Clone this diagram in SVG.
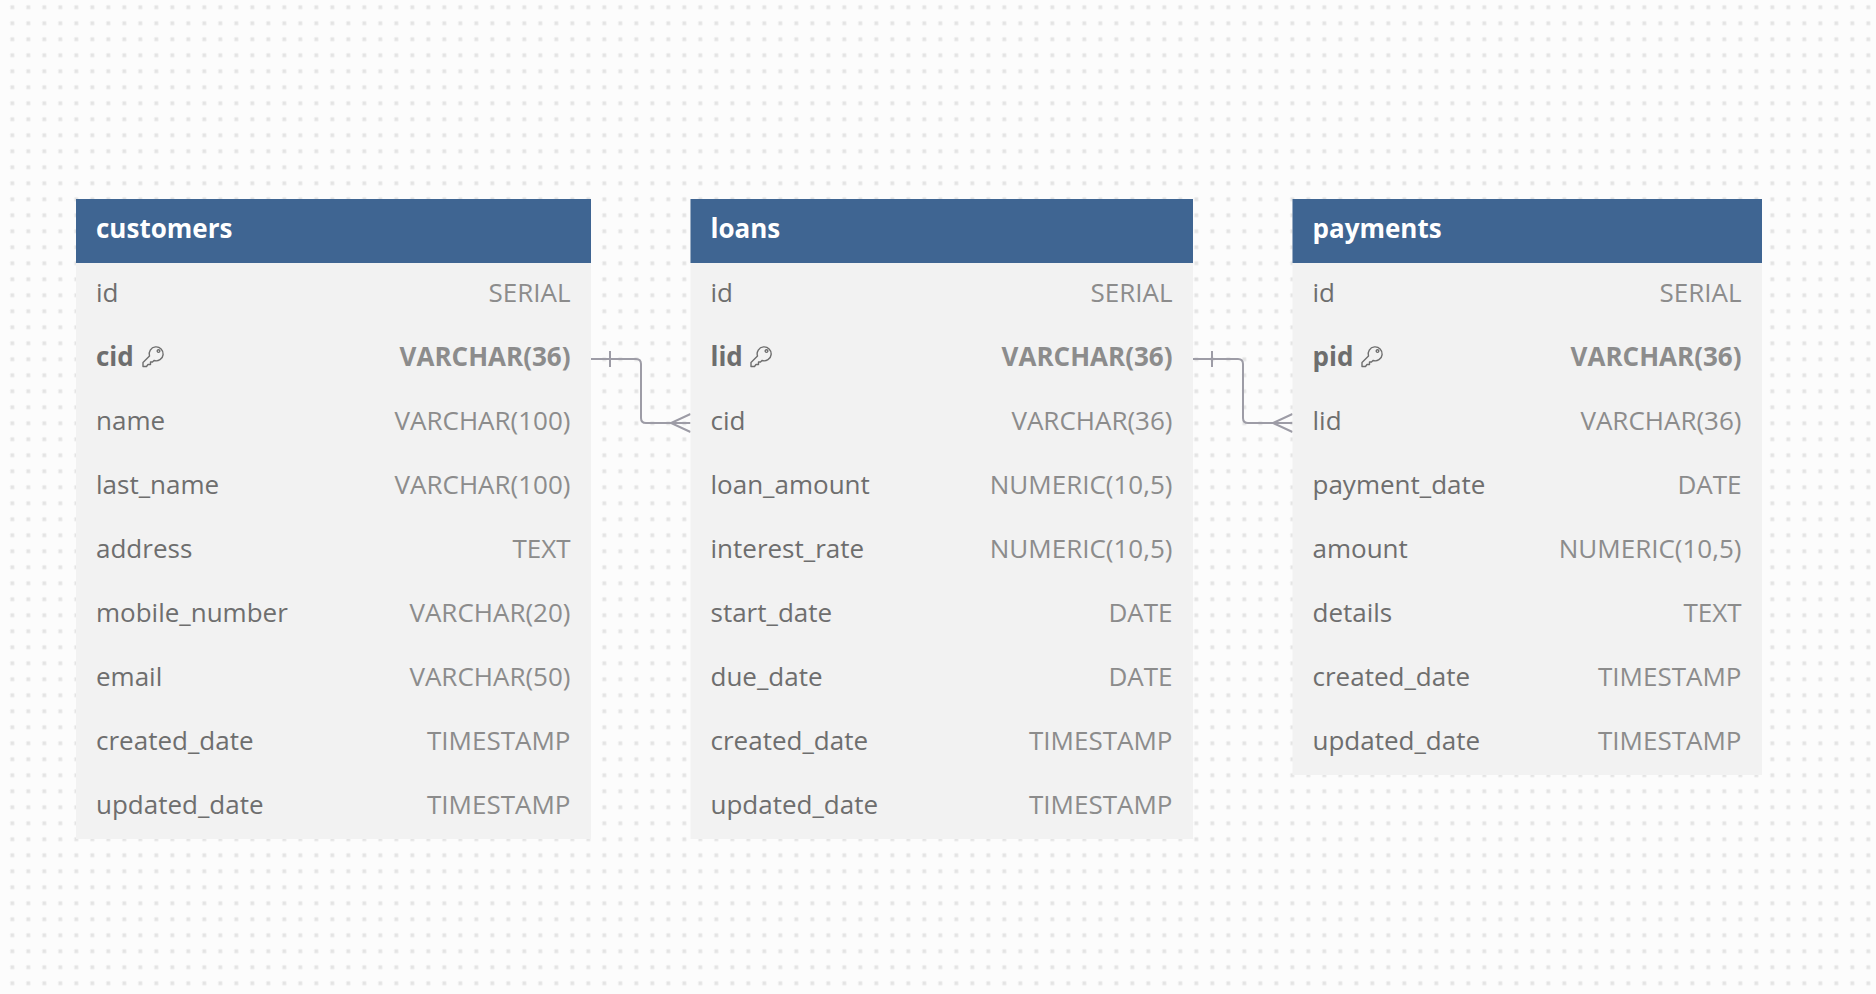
<svg xmlns="http://www.w3.org/2000/svg" width="1876" height="994" viewBox="0 0 1876 994">
<style>
text{font-family:"Open Sans","Noto Sans",sans-serif;font-size:26px;fill:#6e6e6e}
.h{fill:#3f6592}.b{fill:#f2f2f2}
.t{font-weight:700;fill:#fff}
.ty{text-anchor:end;fill:#8c8c8c}
.k{font-weight:700}.ty.k{fill:#8c8c8c}
.c{fill:none;stroke:#9d9ca6;stroke-width:2}
</style>
<defs>
<pattern id="dots" width="16" height="16" patternUnits="userSpaceOnUse"><rect x="9.800" y="4.700" width="5" height="5" rx="1.500" fill="#f3f3f3"/><rect x="10.800" y="5.700" width="3" height="3" fill="#e4e4e4"/></pattern>
<g id="key"><path d="M1 20.500V16.500L7.500 10A7 7 0 1 1 12 14.500L10.500 16H8.500V18.500H6L4.500 20.500Z M16.500 3.800A1.300 1.300 0 1 0 16.510 3.800Z" fill="none" stroke="#6e6e6e" stroke-width="1.400" stroke-linejoin="round"/></g>
</defs>
<rect width="1876" height="994" fill="#fcfcfc"/>
<rect width="1876" height="994" fill="url(#dots)"/>
<g id="connectors">
<path class="c" d="M591 359H636Q641 359 641 364V418Q641 423 646 423H690.500M610 351V367M690.500 414L671 423L690.500 432"/>
<path class="c" d="M1193 359H1238Q1243 359 1243 364V418Q1243 423 1248 423H1292.500M1212 351V367M1292.500 414L1273 423L1292.500 432"/>
</g>
<g id="customers">
<rect class="b" x="76" y="199" width="515" height="640"/><rect class="h" x="76" y="199" width="515" height="64"/>
<text class="t" x="96" y="238">customers</text>
<text x="96" y="302">id</text><text class="ty" x="570.500" y="302">SERIAL</text>
<text class="k" x="96" y="366">cid</text><use href="#key" x="142" y="346"/><text class="ty k" x="570.500" y="366">VARCHAR(36)</text>
<text x="96" y="430">name</text><text class="ty" x="570.500" y="430">VARCHAR(100)</text>
<text x="96" y="494">last_name</text><text class="ty" x="570.500" y="494">VARCHAR(100)</text>
<text x="96" y="558">address</text><text class="ty" x="570.500" y="558">TEXT</text>
<text x="96" y="622">mobile_number</text><text class="ty" x="570.500" y="622">VARCHAR(20)</text>
<text x="96" y="686">email</text><text class="ty" x="570.500" y="686">VARCHAR(50)</text>
<text x="96" y="750">created_date</text><text class="ty" x="570.500" y="750">TIMESTAMP</text>
<text x="96" y="814">updated_date</text><text class="ty" x="570.500" y="814">TIMESTAMP</text>
</g>
<g id="loans">
<rect class="b" x="690.500" y="199" width="502.500" height="640"/><rect class="h" x="690.500" y="199" width="502.500" height="64"/>
<text class="t" x="710.500" y="238">loans</text>
<text x="710.500" y="302">id</text><text class="ty" x="1172.500" y="302">SERIAL</text>
<text class="k" x="710.500" y="366">lid</text><use href="#key" x="750" y="346"/><text class="ty k" x="1172.500" y="366">VARCHAR(36)</text>
<text x="710.500" y="430">cid</text><text class="ty" x="1172.500" y="430">VARCHAR(36)</text>
<text x="710.500" y="494">loan_amount</text><text class="ty" x="1172.500" y="494">NUMERIC(10,5)</text>
<text x="710.500" y="558">interest_rate</text><text class="ty" x="1172.500" y="558">NUMERIC(10,5)</text>
<text x="710.500" y="622">start_date</text><text class="ty" x="1172.500" y="622">DATE</text>
<text x="710.500" y="686">due_date</text><text class="ty" x="1172.500" y="686">DATE</text>
<text x="710.500" y="750">created_date</text><text class="ty" x="1172.500" y="750">TIMESTAMP</text>
<text x="710.500" y="814">updated_date</text><text class="ty" x="1172.500" y="814">TIMESTAMP</text>
</g>
<g id="payments">
<rect class="b" x="1292.500" y="199" width="469.500" height="576"/><rect class="h" x="1292.500" y="199" width="469.500" height="64"/>
<text class="t" x="1312.500" y="238">payments</text>
<text x="1312.500" y="302">id</text><text class="ty" x="1741.500" y="302">SERIAL</text>
<text class="k" x="1312.500" y="366">pid</text><use href="#key" x="1361" y="346"/><text class="ty k" x="1741.500" y="366">VARCHAR(36)</text>
<text x="1312.500" y="430">lid</text><text class="ty" x="1741.500" y="430">VARCHAR(36)</text>
<text x="1312.500" y="494">payment_date</text><text class="ty" x="1741.500" y="494">DATE</text>
<text x="1312.500" y="558">amount</text><text class="ty" x="1741.500" y="558">NUMERIC(10,5)</text>
<text x="1312.500" y="622">details</text><text class="ty" x="1741.500" y="622">TEXT</text>
<text x="1312.500" y="686">created_date</text><text class="ty" x="1741.500" y="686">TIMESTAMP</text>
<text x="1312.500" y="750">updated_date</text><text class="ty" x="1741.500" y="750">TIMESTAMP</text>
</g>
</svg>
